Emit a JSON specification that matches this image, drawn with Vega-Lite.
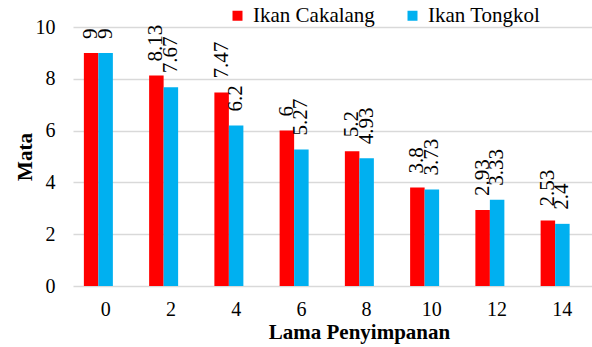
{
  "$schema": "https://vega.github.io/schema/vega-lite/v6.json",
  "autosize": "none",
  "width": 522,
  "height": 259,
  "padding": {"left": 73, "top": 27, "right": 0, "bottom": 61},
  "config": {
    "view": {"stroke": null},
    "axisX": {"labelFont": "Times", "titleFont": "Times"},
    "axisY": {"labelFont": "Times", "titleFont": "Times"},
    "legend": {"labelFont": "Times"}
  },
  "data": {
    "values": [
      {"lama": 0, "jenis": "Ikan Cakalang", "nilai": 9},
      {"lama": 0, "jenis": "Ikan Tongkol", "nilai": 9},
      {"lama": 2, "jenis": "Ikan Cakalang", "nilai": 8.13},
      {"lama": 2, "jenis": "Ikan Tongkol", "nilai": 7.67},
      {"lama": 4, "jenis": "Ikan Cakalang", "nilai": 7.47},
      {"lama": 4, "jenis": "Ikan Tongkol", "nilai": 6.2},
      {"lama": 6, "jenis": "Ikan Cakalang", "nilai": 6},
      {"lama": 6, "jenis": "Ikan Tongkol", "nilai": 5.27},
      {"lama": 8, "jenis": "Ikan Cakalang", "nilai": 5.2},
      {"lama": 8, "jenis": "Ikan Tongkol", "nilai": 4.93},
      {"lama": 10, "jenis": "Ikan Cakalang", "nilai": 3.8},
      {"lama": 10, "jenis": "Ikan Tongkol", "nilai": 3.73},
      {"lama": 12, "jenis": "Ikan Cakalang", "nilai": 2.93},
      {"lama": 12, "jenis": "Ikan Tongkol", "nilai": 3.33},
      {"lama": 14, "jenis": "Ikan Cakalang", "nilai": 2.53},
      {"lama": 14, "jenis": "Ikan Tongkol", "nilai": 2.4}
    ]
  },
  "encoding": {
    "x": {
      "field": "lama", "type": "ordinal",
      "scale": {"paddingInner": 0.3333, "paddingOuter": 0.1667},
      "axis": {
        "title": "Lama Penyimpanan", "labelAngle": 0, "labelFontSize": 20, "labelPadding": 13,
        "labelColor": "black", "titleColor": "black",
        "domain": false, "ticks": false, "titleFontSize": 21, "titleFontWeight": "bold",
        "titleX": 286, "titleY": 35, "titleBaseline": "top", "titleAlign": "center"
      }
    },
    "xOffset": {
      "field": "jenis", "type": "nominal",
      "scale": {"domain": ["Ikan Cakalang", "Ikan Tongkol", "kosong"], "paddingInner": 0, "paddingOuter": 0}
    },
    "y": {
      "field": "nilai", "type": "quantitative",
      "scale": {"domain": [0, 10], "nice": false},
      "axis": {
        "title": "Mata", "values": [0, 2, 4, 6, 8, 10], "labelFontSize": 20, "labelPadding": 18,
        "labelColor": "black", "titleColor": "black",
        "domain": false, "ticks": false, "gridColor": "#d9d9d9", "gridWidth": 1.5,
        "titleFontSize": 21, "titleFontWeight": "bold", "titlePadding": 0
      }
    }
  },
  "layer": [
    {
      "mark": {"type": "bar"},
      "encoding": {
        "color": {
          "field": "jenis", "type": "nominal",
          "scale": {"domain": ["Ikan Cakalang", "Ikan Tongkol"], "range": ["#FF0000", "#00B0F0"]},
          "legend": {
            "title": null, "orient": "none", "direction": "horizontal", "legendX": 154, "legendY": -22,
            "symbolType": "square", "symbolSize": 100, "symbolStrokeWidth": 0, "labelFontSize": 21,
            "labelColor": "black", "labelOffset": 5, "columnPadding": 27
          }
        }
      }
    },
    {
      "mark": {"type": "text", "angle": 270, "align": "left", "baseline": "middle", "dx": 14, "fontSize": 21, "color": "black", "font": "Times"},
      "encoding": {"text": {"field": "nilai", "type": "quantitative"}}
    }
  ]
}
